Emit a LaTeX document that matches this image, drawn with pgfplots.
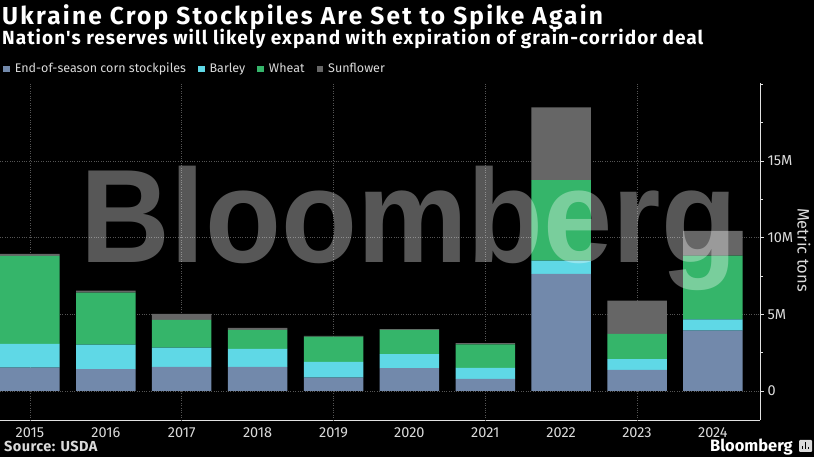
\documentclass[border=0pt]{standalone}
\usepackage{pgfplots}
\pgfplotsset{compat=1.18}
\usepackage{fontspec}
\setmainfont{Fira Sans}
\newfontfamily\wmfont{Liberation Sans}

\definecolor{corn}{HTML}{7289AB}
\definecolor{barley}{HTML}{5FD8E6}
\definecolor{wheat}{HTML}{35B56A}
\definecolor{sunfl}{HTML}{666666}
\definecolor{txt}{HTML}{DADADA}
\definecolor{gridc}{HTML}{555555}

\begin{document}
\begin{tikzpicture}
\path[use as bounding box] (0,0) rectangle (814pt,457pt);
\fill[black] (0,0) rectangle (814pt,457pt);

\begin{axis}[
    at={(0pt,37pt)}, anchor=south west,
    scale only axis, width=760pt, height=337pt,
    ybar stacked, bar width=59.5pt,
    xmin=2014.605, xmax=2024.62,
    ymin=-1.9, ymax=20.08,
    axis x line*=bottom, axis y line*=right,
    axis line style={draw=txt!80, line width=0.8pt},
    /pgf/number format/1000 sep={},
    /pgf/number format/assume math mode=true,
    tick label style={text=txt, font=\fontsize{14.5}{14.5}\selectfont},
    xtick={2015,...,2024},
    x tick style={draw=none},
    extra x ticks={2015,2017,2019,2021,2023},
    extra x tick labels={},
    extra x tick style={grid=major, major tick length=3pt, tick style={draw=txt!80}},
    ytick={0,5,10,15}, yticklabels={0,5M,10M,15M},
    minor ytick={2.5,7.5,12.5,17.5,20},
    tick align=outside,
    major tick length=4pt, minor tick length=3pt,
    y tick style={draw=txt!80},
    ymajorgrids=true,
    grid style={dotted, draw=gridc, line width=0.6pt},
    legend columns=-1,
    legend style={at={(0.004,1.042)}, anchor=west, draw=none, fill=none,
        text=txt, font=\fontsize{12.5}{12.5}\selectfont, inner sep=0pt,
        /tikz/every odd column/.append style={column sep=3pt},
        /tikz/every even column/.append style={column sep=10pt}},
    legend image code/.code={\fill[#1] (0pt,-3.3pt) rectangle (6.6pt,3.3pt);},
]
\addplot[fill=corn, draw=none] coordinates {
 (2015,1.52) (2016,1.41) (2017,1.56) (2018,1.56) (2019,0.87)
 (2020,1.48) (2021,0.78) (2022,7.63) (2023,1.37) (2024,3.93)};
\addplot[fill=barley, draw=none] coordinates {
 (2015,1.54) (2016,1.61) (2017,1.26) (2018,1.18) (2019,1.02)
 (2020,0.91) (2021,0.72) (2022,0.86) (2023,0.70) (2024,0.74)};
\addplot[fill=wheat, draw=none] coordinates {
 (2015,5.74) (2016,3.39) (2017,1.81) (2018,1.24) (2019,1.65)
 (2020,1.59) (2021,1.54) (2022,5.26) (2023,1.65) (2024,4.15)};
\addplot[fill=sunfl, draw=none] coordinates {
 (2015,0.13) (2016,0.13) (2017,0.39) (2018,0.13) (2019,0.05)
 (2020,0.04) (2021,0.07) (2022,4.74) (2023,2.17) (2024,1.61)};
\legend{End-of-season corn stockpiles, Barley, Wheat, Sunflower}
\end{axis}

% watermark
\node[anchor=base, text=white, text opacity=0.34, xscale=0.935,
      font=\wmfont\bfseries\fontsize{133}{133}\selectfont, inner sep=0pt]
      at (409pt,194pt) {Bloomberg};

\node[anchor=base west, text=white, inner sep=0pt,
      font=\bfseries\fontsize{24.5}{24.5}\selectfont\addfontfeature{LetterSpace=9}] at (2pt,432pt)
      {Ukraine Crop Stockpiles Are Set to Spike Again};
\node[anchor=base west, text=white, inner sep=0pt,
      font=\bfseries\fontsize{19}{19}\selectfont\addfontfeature{LetterSpace=5.6,Ligatures=TeXOff}] at (2pt,412pt)
      {Nation's reserves will likely expand with expiration of grain-corridor deal};
\node[anchor=center, rotate=-90, text=txt, inner sep=0pt,
      font=\fontsize{16.5}{16.5}\selectfont] at (804pt,207pt) {Metric tons};
\node[anchor=base west, text=txt, inner sep=0pt,
      font=\bfseries\fontsize{14.5}{14.5}\selectfont\addfontfeature{LetterSpace=3}] at (4pt,5pt) {Source: USDA};
\node[anchor=base east, text=white, inner sep=0pt,
      font=\bfseries\fontsize{16.5}{16.5}\selectfont] at (793pt,5pt) {Bloomberg};
\fill[txt, rounded corners=1pt] (799pt,5pt) rectangle (812pt,17pt);
\fill[black] (802pt,7.5pt) rectangle (803.4pt,11pt);
\fill[black] (805pt,7.5pt) rectangle (806.4pt,14.5pt);
\fill[black] (808pt,7.5pt) rectangle (809.4pt,10pt);
\end{tikzpicture}
\end{document}
